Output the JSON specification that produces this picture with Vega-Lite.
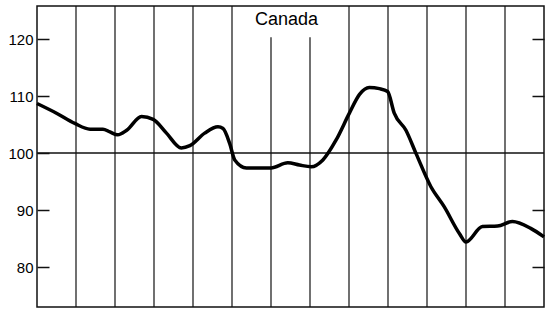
{
  "$schema": "https://vega.github.io/schema/vega-lite/v6.json",
  "width": 507,
  "height": 301,
  "autosize": "none",
  "padding": {"left": 37, "top": 6, "right": 1, "bottom": 6},
  "background": "white",
  "config": {
    "view": {"stroke": "#111", "strokeWidth": 1.5},
    "font": "Liberation Sans"
  },
  "resolve": {"axis": {"y": "independent"}},
  "layer": [
    {
      "data": {"values": [
        {"x": 1, "top": 125.8, "bottom": 73},
        {"x": 2, "top": 125.8, "bottom": 73},
        {"x": 3, "top": 125.8, "bottom": 73},
        {"x": 4, "top": 125.8, "bottom": 73},
        {"x": 5, "top": 125.8, "bottom": 73},
        {"x": 6, "top": 120.3, "bottom": 73},
        {"x": 7, "top": 120.3, "bottom": 73},
        {"x": 8, "top": 125.8, "bottom": 73},
        {"x": 9, "top": 125.8, "bottom": 73},
        {"x": 10, "top": 125.8, "bottom": 73},
        {"x": 11, "top": 125.8, "bottom": 73},
        {"x": 12, "top": 125.8, "bottom": 73}
      ]},
      "mark": {"type": "rule", "color": "#111", "strokeWidth": 1.2},
      "encoding": {
        "x": {"field": "x", "type": "quantitative", "scale": {"domain": [0, 13], "nice": false, "zero": false}, "axis": null},
        "y": {"field": "top", "type": "quantitative", "scale": {"domain": [73, 125.8], "nice": false, "zero": false}, "axis": null},
        "y2": {"field": "bottom"}
      }
    },
    {
      "data": {"values": [{"level": 100}]},
      "mark": {"type": "rule", "color": "#111", "strokeWidth": 1.5},
      "encoding": {
        "y": {"field": "level", "type": "quantitative", "axis": {"orient": "right", "values": [80, 90, 110, 120], "labels": false, "domain": false, "grid": false, "title": null, "tickSize": -12, "tickColor": "#111", "tickWidth": 1.5}}
      }
    },
    {
      "data": {"values": [
        {"t": 0.0, "v": 108.7},
        {"t": 0.5, "v": 107.0},
        {"t": 0.97, "v": 105.2},
        {"t": 1.36, "v": 104.2},
        {"t": 1.69, "v": 104.2},
        {"t": 1.87, "v": 103.7},
        {"t": 2.07, "v": 103.2},
        {"t": 2.3, "v": 104.0},
        {"t": 2.68, "v": 106.4},
        {"t": 2.98, "v": 105.9},
        {"t": 3.32, "v": 103.5},
        {"t": 3.7, "v": 100.9},
        {"t": 3.92, "v": 101.3},
        {"t": 4.3, "v": 103.5},
        {"t": 4.64, "v": 104.6},
        {"t": 4.77, "v": 104.3},
        {"t": 4.94, "v": 101.7},
        {"t": 5.07, "v": 98.8},
        {"t": 5.37, "v": 97.4},
        {"t": 6.0, "v": 97.4},
        {"t": 6.43, "v": 98.3},
        {"t": 6.73, "v": 97.9},
        {"t": 7.03, "v": 97.6},
        {"t": 7.33, "v": 98.8},
        {"t": 7.67, "v": 102.3},
        {"t": 8.01, "v": 107.0},
        {"t": 8.27, "v": 110.3},
        {"t": 8.52, "v": 111.5},
        {"t": 8.78, "v": 111.3},
        {"t": 8.99, "v": 110.8},
        {"t": 9.16, "v": 107.0},
        {"t": 9.46, "v": 104.0},
        {"t": 9.72, "v": 99.9},
        {"t": 10.1, "v": 94.1},
        {"t": 10.44, "v": 90.6},
        {"t": 10.83, "v": 85.9},
        {"t": 11.0, "v": 84.4},
        {"t": 11.42, "v": 87.1},
        {"t": 11.81, "v": 87.2},
        {"t": 12.19, "v": 88.0},
        {"t": 12.66, "v": 86.8},
        {"t": 13.0, "v": 85.3}
      ]},
      "mark": {"type": "line", "color": "#000", "strokeWidth": 3.5, "interpolate": "monotone"},
      "encoding": {
        "x": {"field": "t", "type": "quantitative"},
        "y": {"field": "v", "type": "quantitative", "axis": {"orient": "left", "values": [80, 90, 100, 110, 120], "domain": false, "grid": false, "title": null, "tickSize": -12, "tickColor": "#111", "tickWidth": 1.5, "labelFontSize": 15, "labelColor": "#000", "labelPadding": 16, "labelFont": "Liberation Sans"}}
      }
    },
    {
      "data": {"values": [{"label": "Canada", "t": 6.4, "v": 123.3}]},
      "mark": {"type": "text", "fontSize": 18, "color": "#000", "align": "center", "baseline": "middle", "font": "Liberation Sans"},
      "encoding": {
        "x": {"field": "t", "type": "quantitative"},
        "y": {"field": "v", "type": "quantitative", "axis": null},
        "text": {"field": "label"}
      }
    }
  ]
}
